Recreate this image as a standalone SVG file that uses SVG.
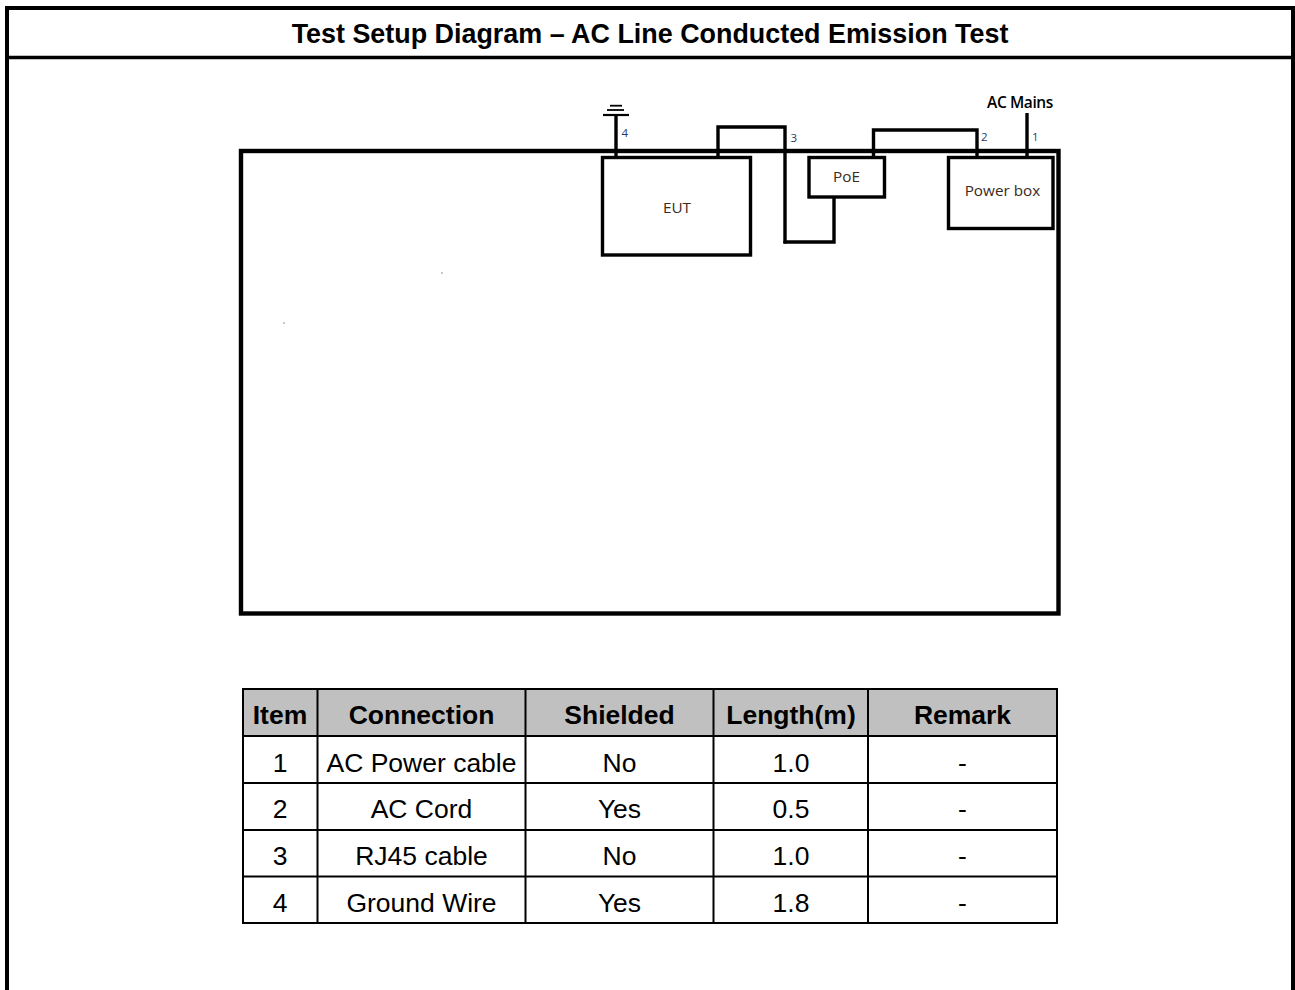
<svg xmlns="http://www.w3.org/2000/svg" width="1295" height="990" viewBox="0 0 1295 990">
<style>
.frame{fill:none;stroke:#000;stroke-width:4}
.box{fill:none;stroke:#000;stroke-width:3.4}
.wire{fill:none;stroke:#000;stroke-width:3.4}
.title{font-family:"Liberation Sans",Arial,sans-serif;font-weight:bold;font-size:26.9px;fill:#000;text-anchor:middle}
.lbl{font-family:"Open Sans","DejaVu Sans",sans-serif;font-size:15.3px;fill:#3a2a1a;text-anchor:middle}
.num{font-family:"Open Sans","DejaVu Sans",sans-serif;font-size:11.5px;fill:#2b3a6b}
.th{font-family:"Liberation Sans",Arial,sans-serif;font-weight:bold;font-size:26.5px;fill:#000;text-anchor:middle}
.td{font-family:"Liberation Sans",Arial,sans-serif;font-size:26.5px;fill:#000;text-anchor:middle}
.grid{stroke:#000;stroke-width:2;fill:none}
</style>
<rect width="1295" height="990" fill="#fff"/>
<g id="frame">
<path class="frame" d="M7,990 V8 H1293 V990"/>
<line x1="7" y1="57.5" x2="1293" y2="57.5" stroke="#000" stroke-width="3.5"/>
<text class="title" x="650" y="43">Test Setup Diagram – AC Line Conducted Emission Test</text>
</g>
<g id="table-surface">
<rect x="241" y="151" width="817.5" height="462.5" fill="none" stroke="#000" stroke-width="4.4"/>
<circle cx="442" cy="273" r="0.7" fill="#666"/>
<circle cx="284" cy="323" r="0.7" fill="#666"/>
</g>
<g id="eut">
<rect class="box" x="602.5" y="157.5" width="148" height="97.5" fill="#fff"/>
<text class="lbl" x="677" y="213">EUT</text>
</g>
<g id="poe">
<rect class="box" x="809" y="157.5" width="75.5" height="39.5" fill="#fff"/>
<text class="lbl" x="846.5" y="182">PoE</text>
</g>
<g id="powerbox">
<rect class="box" x="948.5" y="157.5" width="104.5" height="71" fill="#fff"/>
<text class="lbl" x="1002.5" y="196">Power box</text>
</g>
<g id="ground">
<line x1="610" y1="105.7" x2="622" y2="105.7" stroke="#000" stroke-width="1.8"/>
<line x1="607" y1="110" x2="624" y2="110" stroke="#000" stroke-width="1.8"/>
<line x1="603" y1="115" x2="629" y2="115" stroke="#000" stroke-width="2.2"/>
</g>
<g id="connectors">
<line class="wire" x1="616" y1="115" x2="616" y2="157.5"/>
<polyline class="wire" points="718,157.5 718,127 785,127 785,242 834,242 834,197"/>
<circle cx="785" cy="242" r="1.8" fill="#000"/>
<polyline class="wire" points="873.5,157.5 873.5,130 977,130 977,157.5"/>
<line class="wire" x1="1027" y1="113" x2="1027" y2="157.5"/>
<text class="num" x="621.5" y="137">4</text>
<text class="num" x="790.5" y="142">3</text>
<text class="num" x="981" y="141">2</text>
<text class="num" x="1032" y="141">1</text>
<text x="1020" y="108" font-family="Open Sans, DejaVu Sans, sans-serif" font-size="15.5" font-weight="600" fill="#000" text-anchor="middle" letter-spacing="-0.4">AC Mains</text>
</g>
<g id="table">
<rect x="243" y="689" width="814" height="47" fill="#c0c0c0"/>
<rect class="grid" x="243" y="689" width="814" height="234"/>
<line class="grid" x1="243" y1="736" x2="1057" y2="736"/>
<line class="grid" x1="243" y1="783" x2="1057" y2="783"/>
<line class="grid" x1="243" y1="830" x2="1057" y2="830"/>
<line class="grid" x1="243" y1="876.5" x2="1057" y2="876.5"/>
<line class="grid" x1="317.5" y1="689" x2="317.5" y2="923"/>
<line class="grid" x1="525.5" y1="689" x2="525.5" y2="923"/>
<line class="grid" x1="713.5" y1="689" x2="713.5" y2="923"/>
<line class="grid" x1="868" y1="689" x2="868" y2="923"/>
<text class="th" x="280" y="724">Item</text>
<text class="th" x="421.5" y="724">Connection</text>
<text class="th" x="619.5" y="724">Shielded</text>
<text class="th" x="791" y="724">Length(m)</text>
<text class="th" x="962.5" y="724">Remark</text>
<text class="td" x="280" y="771.5">1</text>
<text class="td" x="421.5" y="771.5">AC Power cable</text>
<text class="td" x="619.5" y="771.5">No</text>
<text class="td" x="791" y="771.5">1.0</text>
<text class="td" x="962.5" y="771.5">-</text>
<text class="td" x="280" y="817.5">2</text>
<text class="td" x="421.5" y="817.5">AC Cord</text>
<text class="td" x="619.5" y="817.5">Yes</text>
<text class="td" x="791" y="817.5">0.5</text>
<text class="td" x="962.5" y="817.5">-</text>
<text class="td" x="280" y="864.5">3</text>
<text class="td" x="421.5" y="864.5">RJ45 cable</text>
<text class="td" x="619.5" y="864.5">No</text>
<text class="td" x="791" y="864.5">1.0</text>
<text class="td" x="962.5" y="864.5">-</text>
<text class="td" x="280" y="911.5">4</text>
<text class="td" x="421.5" y="911.5">Ground Wire</text>
<text class="td" x="619.5" y="911.5">Yes</text>
<text class="td" x="791" y="911.5">1.8</text>
<text class="td" x="962.5" y="911.5">-</text>
</g>
</svg>
